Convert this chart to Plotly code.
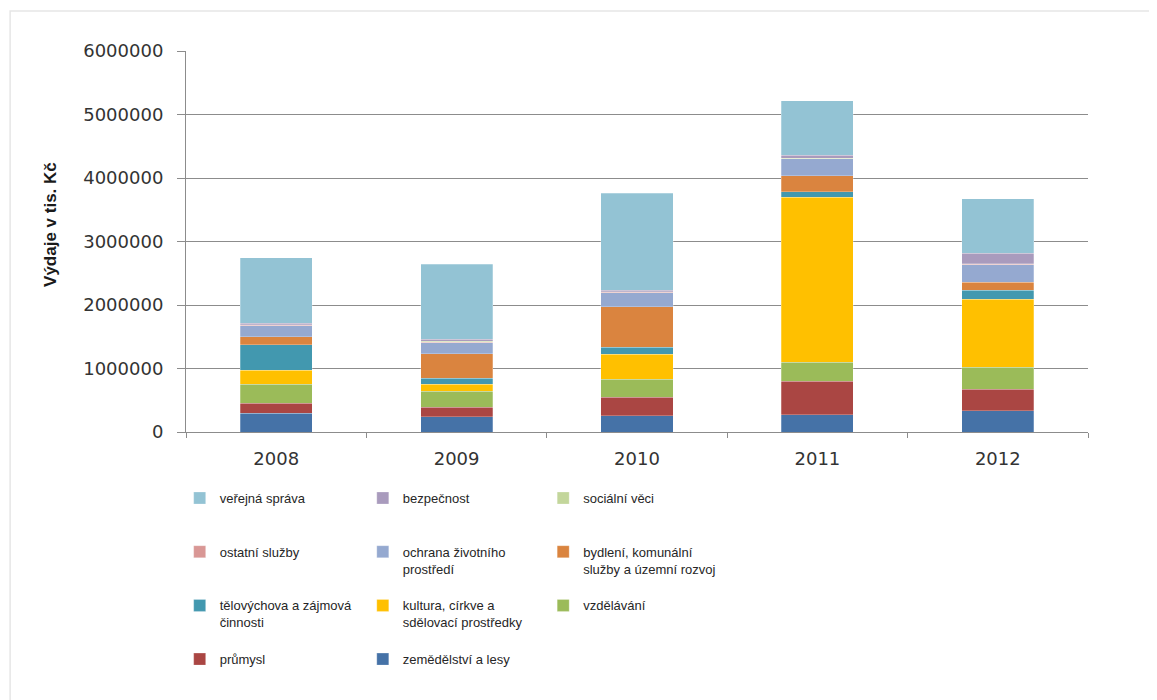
import plotly.graph_objects as go

years = ["2008", "2009", "2010", "2011", "2012"]

# stacking order bottom -> top
zemedelstvi = [293000, 241000, 257000, 273000, 336000]
prumysl = [158000, 147000, 289000, 524000, 336000]
vzdelavani = [298000, 256000, 283000, 300000, 351000]
kultura = [225000, 105000, 399000, 2602000, 1065000]
telovychova = [399000, 99000, 110000, 84000, 142000]
bydleni = [125000, 383000, 635000, 252000, 131000]
ochrana = [178000, 178000, 220000, 267000, 273000]
ostatni = [4000, 4000, 4000, 4000, 4000]
socialni = [12000, 14000, 14000, 6000, 15000]
bezpecnost = [21000, 34000, 24000, 49000, 159000]
verejna = [1031000, 1184000, 1522000, 855000, 860000]

y_ticks = [0, 1000000, 2000000, 3000000, 4000000, 5000000, 6000000]

series = [
    ("zemědělství a lesy", zemedelstvi, "#4572A7", "legend2"),
    ("průmysl", prumysl, "#AA4643", "legend"),
    ("vzdělávání", vzdelavani, "#9BBB59", "legend3"),
    ("kultura, církve a<br>sdělovací prostředky", kultura, "#FFC000", "legend2"),
    ("tělovýchova a zájmová<br>činnosti", telovychova, "#4298AF", "legend"),
    ("bydlení, komunální<br>služby a územní rozvoj", bydleni, "#DA843F", "legend3"),
    ("ochrana životního<br>prostředí", ochrana, "#95A9D0", "legend2"),
    ("ostatní služby", ostatni, "#D99795", "legend"),
    ("sociální věci", socialni, "#C3D69B", "legend3"),
    ("bezpečnost", bezpecnost, "#A99BBD", "legend2"),
    ("veřejná správa", verejna, "#93C3D4", "legend"),
]

# legend row order within each column (top -> bottom)
rank = {
    "veřejná správa": 1, "ostatní služby": 2, "tělovýchova a zájmová<br>činnosti": 3, "průmysl": 4,
    "bezpečnost": 1, "ochrana životního<br>prostředí": 2, "kultura, církve a<br>sdělovací prostředky": 3,
    "zemědělství a lesy": 4,
    "sociální věci": 1, "bydlení, komunální<br>služby a územní rozvoj": 2, "vzdělávání": 3,
}

fig = go.Figure()
for name, vals, color, leg in series:
    lines = name.count("<br>") + 1
    label = name + "<br> " * (3 - lines)
    fig.add_trace(go.Bar(
        x=years, y=vals, name=label, legend=leg,
        legendrank=rank[name],
        marker=dict(color=color, line=dict(color="rgba(255,255,255,0.5)", width=0.5)),
    ))

legend_common = dict(
    orientation="v", yanchor="top", xanchor="left", valign="top",
    font=dict(family="Liberation Sans, Arial, sans-serif", size=13, color="#262626"),
    bgcolor="rgba(0,0,0,0)", traceorder="normal", tracegroupgap=0,
)

fig.update_layout(
    width=1149, height=692,
    margin=dict(l=178, r=69, t=43, b=268, autoexpand=False),
    barmode="stack", bargap=0.6,
    plot_bgcolor="white", paper_bgcolor="white",
    font=dict(family="DejaVu Sans, sans-serif", color="#333333"),
    xaxis=dict(
        showline=True, linecolor="#8c8c8c", linewidth=1,
        ticks="outside", tickson="boundaries", ticklen=5, tickcolor="#8c8c8c",
        tickfont=dict(size=18, color="#333333"),
        ticklabelstandoff=10,
    ),
    yaxis=dict(
        range=[0, 6000000], tickvals=y_ticks, tickformat="d",
        showline=True, linecolor="#8c8c8c", linewidth=1,
        showgrid=True, gridcolor="#8c8c8c", gridwidth=1,
        ticks="outside", ticklen=8, tickcolor="#8c8c8c",
        tickfont=dict(size=18, color="#333333"),
        ticklabelstandoff=10,
        zeroline=False,
    ),
    legend=dict(x=-0.007, y=-0.134, **legend_common),
    legend2=dict(x=0.196, y=-0.134, **legend_common),
    legend3=dict(x=0.396, y=-0.134, **legend_common),
    annotations=[dict(
        text="<b>Výdaje v tis. Kč</b>", textangle=-90,
        xref="paper", yref="paper", x=-0.1497, y=0.546,
        xanchor="center", yanchor="middle", showarrow=False,
        font=dict(family="Liberation Sans, sans-serif", size=17, color="#1a1a1a"),
    )],
    shapes=[dict(
        type="rect", xref="paper", yref="paper",
        x0=-0.195, y0=-0.72, x1=1.085, y1=1.105,
        line=dict(color="#e6e6e6", width=1.5), layer="below",
    )],
)

fig.write_html("out.html")
